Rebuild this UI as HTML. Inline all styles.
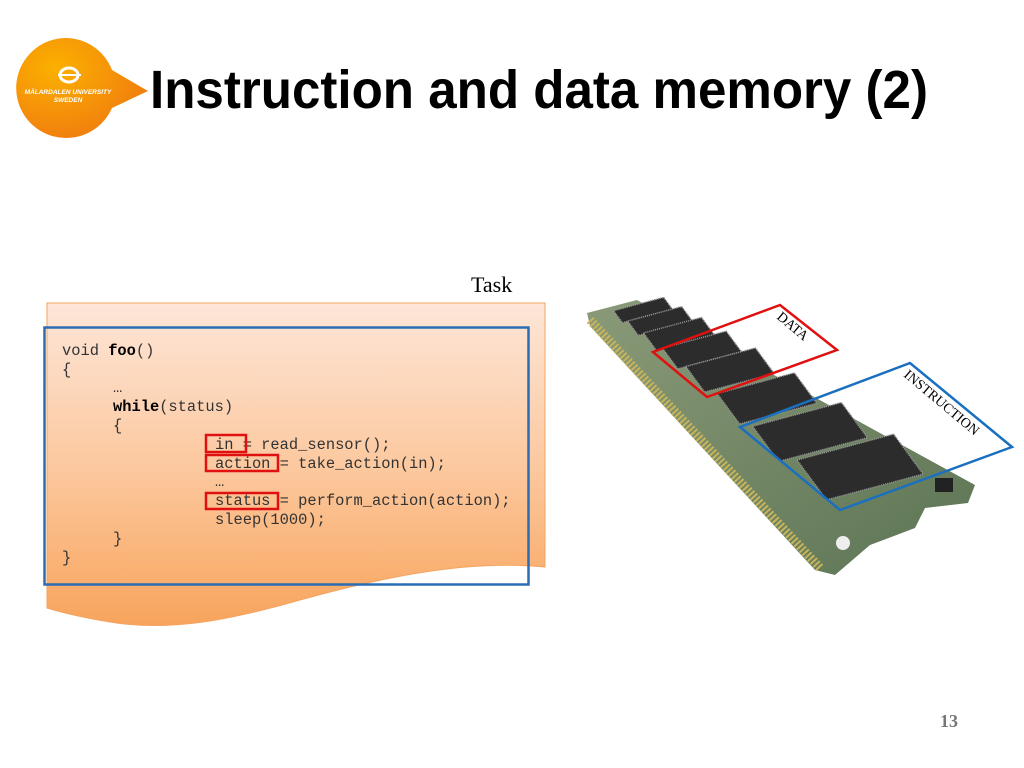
<!DOCTYPE html>
<html><head><meta charset="utf-8"><style>
html,body{margin:0;padding:0;background:#fff;width:1024px;height:768px;overflow:hidden}
svg{display:block}
.code{font-family:"Liberation Mono",monospace;font-size:15.4px;fill:#333}
</style></head><body>
<svg width="1024" height="768" viewBox="0 0 1024 768" xmlns="http://www.w3.org/2000/svg">
<defs>
<linearGradient id="og" x1="0" y1="0" x2="0" y2="1">
<stop offset="0" stop-color="#fde6d8"/><stop offset="0.5" stop-color="#fcc9a0"/><stop offset="1" stop-color="#f8a45c"/>
</linearGradient>
<radialGradient id="lg" cx="0.3" cy="0.3" r="0.8">
<stop offset="0" stop-color="#fbb000"/><stop offset="1" stop-color="#f07a10"/>
</radialGradient>
<linearGradient id="bg" x1="0" y1="0" x2="1" y2="1">
<stop offset="0" stop-color="#8a9a78"/><stop offset="1" stop-color="#5c7454"/>
</linearGradient>
</defs>
<path d="M65,38 A50,50 0 1,0 112,108 L148,91 L112,70 A50,50 0 0,0 65,38 Z" fill="url(#lg)"/>
<ellipse cx="69" cy="75" rx="9" ry="7" fill="none" stroke="#fff" stroke-width="3"/>
<line x1="58" y1="75" x2="81" y2="75" stroke="#fff" stroke-width="2"/>
<text x="68" y="94" font-family="Liberation Sans,sans-serif" font-size="6.5" font-weight="bold" fill="#fff" text-anchor="middle" font-style="italic">MÄLARDALEN UNIVERSITY</text>
<text x="68" y="102" font-family="Liberation Sans,sans-serif" font-size="6.5" font-weight="bold" fill="#fff" text-anchor="middle" font-style="italic">SWEDEN</text>
<text x="150" y="108" font-family="Liberation Sans,sans-serif" font-weight="bold" font-size="54" fill="#000" textLength="778" lengthAdjust="spacingAndGlyphs">Instruction and data memory (2)</text>
<text x="471" y="292" font-family="Liberation Serif,serif" font-size="22" fill="#000">Task</text>
<path d="M47,303 L545,303 L545,567 C470,560 390,575 300,600 C230,620 170,632 110,622 C80,617 60,612 47,608 Z" fill="url(#og)" stroke="#f4a460" stroke-width="1"/>
<rect x="44.5" y="327.5" width="484" height="257" fill="none" stroke="#2a6db5" stroke-width="2.5"/>
<g class="code">
<text x="62" y="355">void <tspan font-weight="bold" fill="#000">foo</tspan>()</text>
<text x="62" y="374">{</text>
<text x="113" y="392">…</text>
<text x="113" y="411"><tspan font-weight="bold" fill="#000">while</tspan>(status)</text>
<text x="113" y="430">{</text>
<text x="215" y="449">in = read_sensor();</text>
<text x="215" y="468">action = take_action(in);</text>
<text x="215" y="486">…</text>
<text x="215" y="505">status = perform_action(action);</text>
<text x="215" y="524">sleep(1000);</text>
<text x="113" y="543">}</text>
<text x="62" y="562">}</text>
</g>
<g fill="none" stroke="#e01010" stroke-width="2.5">
<rect x="206" y="435" width="40" height="17"/>
<rect x="206" y="455" width="72" height="16"/>
<rect x="206" y="493" width="72" height="16"/>
</g>
<path d="M587,313 L637,300 L975,485 L968,503 L925,508 L915,528 L870,545 L835,575 L815,570 L590,326 Z" fill="url(#bg)"/>
<path d="M590,320 L820,568" stroke="#c8b45a" stroke-width="9" stroke-dasharray="2 2" fill="none"/>
<g fill="#2c2c2c" stroke="#999" stroke-width="1.5" stroke-dasharray="1 1">
<polygon points="613.5,310.7 663.7,297.3 672.5,309.3 622.3,322.7"/>
<polygon points="627.7,321.1 681.7,306.5 692.3,320.9 638.3,335.5"/>
<polygon points="643.5,333 701.5,317.4 714.5,335 656.5,350.6"/>
<polygon points="662.4,348.1 726.2,331.1 741.6,351.9 677.8,368.9"/>
<polygon points="685.8,366.5 755.4,347.9 774.2,373.5 704.6,392.1"/>
<polygon points="717.2,393.6 794.4,372.8 816.8,403.2 739.6,424"/>
<polygon points="752.6,426.3 841.4,402.5 867.4,437.7 778.6,461.5"/>
<polygon points="797,460 893.6,434.1 923.1,474.1 826.5,499.9"/>
</g>
<rect x="935" y="478" width="18" height="14" fill="#222"/>
<circle cx="843" cy="543" r="7" fill="#eee"/>
<polygon points="653,352 780,305 837,350 707,397" fill="none" stroke="#e01010" stroke-width="2.5"/>
<text transform="translate(776,318) rotate(40)" font-family="Liberation Serif,serif" font-size="14" fill="#000">DATA</text>
<polygon points="740,427 910,363 1012,447 840,510" fill="none" stroke="#1a6fbf" stroke-width="2.5"/>
<text transform="translate(903,376) rotate(40)" font-family="Liberation Serif,serif" font-size="14" fill="#000">INSTRUCTION</text>
<text x="940" y="727" font-family="Liberation Serif,serif" font-weight="bold" font-size="18" fill="#777">13</text>
</svg>
</body></html>
